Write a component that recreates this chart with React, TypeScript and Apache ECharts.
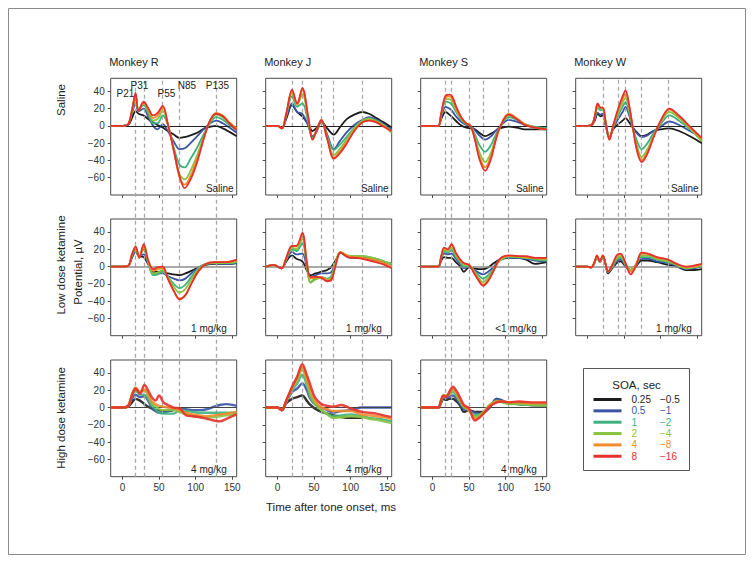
import React, { useEffect, useRef } from "react";
import * as echarts from "echarts";

const FONT = '"Liberation Sans", Arial, Helvetica, sans-serif';

// ---- categories / labels ----
const monkeys = ["Monkey R", "Monkey J", "Monkey S", "Monkey W"];
const soaLabels = ["0.25", "0.5", "1", "2", "4", "8"];
const isiLabels = ["\u22120.5", "\u22121", "\u22122", "\u22124", "\u22128", "\u221216"];
const seriesColors = ["#1c1c1c", "#3b54a4", "#3db27f", "#86c440", "#f38a2b", "#e4312b"];
const componentNames = ["P21", "P31", "P55", "N85", "P135"];
const xTicks = [0, 50, 100, 150];
const yTicks = [-60, -40, -20, 0, 20, 40];

// peak latencies (dashed lines), ms
const latR = [18, 30, 55, 78, 128];
const latJ = [20, 34, 60, 76, 116];
const latS = [18, 26, 50, 69, 104];
const latW = [21, 42, 52, 74, 110];

// ---- Saline ----
const rSalT = [-16, 0, 8, 13, 18, 22, 29, 35, 42, 48, 55, 62, 70, 78, 85, 93, 102, 112, 120, 128, 137, 146, 156];
const rSal = [
  [0, 0, 1, 9, 17, 14, 12, 8, 4, 1, -2, -6, -10, -14, -13, -11, -8, -3, -1, 0, -3, -7, -12],
  [0, 0, 2, 14, 26, 17, 20, 11, 0, -4, 2, -6, -18, -27, -26, -20, -12, -3, 3, 6, 3, -2, -8],
  [0, 0, 2, 16, 32, 19, 24, 15, 3, 3, 12, 1, -25, -45, -48, -38, -25, -8, 4, 10, 7, 1, -5],
  [0, 0, 2, 17, 35, 19, 26, 18, 6, 8, 17, 2, -28, -56, -62, -52, -34, -11, 6, 13, 10, 3, -3],
  [0, 0, 2, 18, 36, 18, 27, 20, 9, 12, 21, 2, -28, -60, -68, -58, -38, -12, 7, 15, 12, 4, -3],
  [0, 0, 2, 18, 38, 17, 28, 21, 12, 15, 23, 2, -28, -58, -72, -62, -42, -12, 7, 14, 11, 3, -5],
];
const jSalT = [-16, 0, 6, 12, 20, 27, 34, 42, 48, 54, 60, 68, 77, 85, 95, 105, 116, 125, 135, 145, 156];
const jSal = [
  [0, 0, -3, 8, 24, 16, 11, 2, -6, -2, 5, -3, -10, -2, 8, 13, 16, 14, 9, 4, -2],
  [0, 0, -3, 10, 26, 16, 14, 0, -12, -6, 6, -10, -27, -18, -7, 1, 7, 10, 7, 2, -4],
  [0, 0, -3, 12, 34, 22, 26, 4, -14, -5, 6, -12, -28, -22, -12, -2, 6, 9, 6, 1, -6],
  [0, 0, -3, 13, 38, 24, 37, 8, -15, -4, 7, -14, -34, -27, -15, -3, 6, 8, 5, 0, -8],
  [0, 0, -3, 14, 40, 25, 42, 10, -16, -4, 7, -15, -37, -30, -18, -5, 4, 7, 5, 0, -7],
  [0, 0, -3, 14, 42, 26, 44, 11, -16, -4, 7, -15, -38, -32, -20, -6, 4, 6, 4, -1, -6],
];
const sSalT = [-16, 0, 8, 12, 18, 23, 27, 33, 40, 46, 52, 58, 64, 72, 80, 86, 92, 104, 115, 126, 140, 156];
const sSal = [
  [0, 0, 0, 8, 16, 13, 10, 5, 0, -2, -3, -4, -8, -12, -9, -6, -3, -1, -2, -4, -4, -4],
  [0, 0, 0, 10, 22, 20, 17, 10, 4, 1, 0, -5, -11, -16, -12, -6, -1, 7, 5, 1, -2, -3],
  [0, 0, 0, 12, 28, 27, 24, 15, 6, 2, 0, -10, -22, -30, -22, -11, -2, 10, 7, 2, -1, -3],
  [0, 0, 0, 13, 31, 31, 28, 17, 7, 3, 0, -13, -30, -42, -31, -15, -2, 12, 8, 2, -2, -4],
  [0, 0, 0, 14, 33, 34, 31, 19, 8, 3, 0, -15, -35, -48, -35, -17, -2, 14, 9, 2, -2, -4],
  [0, 0, 0, 15, 35, 36, 34, 21, 9, 3, 0, -16, -38, -52, -38, -18, -2, 13, 8, 1, -2, -4],
];
const wSalT = [-16, 0, 6, 10, 14, 18, 21, 25, 30, 35, 42, 48, 52, 57, 62, 68, 74, 82, 90, 100, 112, 125, 140, 156];
const wSal = [
  [0, 0, 1, 6, 14, 11, 12, 0, -14, -4, 2, 6, 9, 4, -2, -8, -12, -10, -6, -4, -3, -6, -12, -20],
  [0, 0, 1, 7, 15, 13, 14, 2, -14, -3, 8, 16, 22, 12, -2, -9, -13, -11, -6, -1, 5, 1, -6, -14],
  [0, 0, 1, 9, 21, 18, 19, 3, -15, -2, 12, 22, 27, 15, -3, -18, -27, -20, -9, 2, 12, 6, -4, -17],
  [0, 0, 1, 10, 23, 20, 20, 4, -15, -1, 15, 27, 32, 19, -3, -24, -36, -27, -12, 4, 16, 9, -3, -18],
  [0, 0, 1, 11, 25, 21, 21, 4, -16, -1, 18, 31, 37, 22, -2, -28, -40, -30, -13, 5, 19, 11, -2, -15],
  [0, 0, 1, 11, 26, 21, 21, 4, -16, 0, 20, 34, 41, 24, -2, -30, -42, -32, -14, 6, 20, 12, -1, -14],
];

// ---- Low dose ketamine ----
const rLowT = [-16, 0, 8, 13, 18, 23, 29, 35, 42, 48, 55, 62, 70, 78, 86, 94, 104, 114, 125, 140, 156];
const rLow = [
  [0, 0, 1, 10, 17, 12, 11, 3, -6, -6, -7, -8, -9, -10, -8, -5, -1, 2, 3, 3, 4],
  [0, 0, 1, 11, 18, 12, 14, 4, -8, -8, -8, -11, -14, -16, -14, -8, -1, 3, 4, 3, 4],
  [0, 0, 1, 12, 20, 12, 20, 5, -10, -9, -6, -12, -20, -25, -21, -12, -2, 3, 4, 4, 5],
  [0, 0, 1, 13, 22, 11, 23, 6, -8, -7, -4, -12, -23, -30, -26, -15, -3, 3, 4, 4, 5],
  [0, 0, 1, 14, 23, 10, 25, 7, -5, -3, -2, -14, -28, -37, -33, -20, -5, 3, 5, 5, 7],
  [0, 0, 1, 14, 23, 10, 26, 8, -3, -1, 0, -14, -28, -38, -33, -20, -5, 3, 5, 5, 8],
];
const jLowT = [-16, -5, 0, 6, 12, 20, 26, 34, 40, 45, 52, 60, 68, 74, 80, 86, 96, 106, 116, 130, 143, 156];
const jLow = [
  [0, 2, 0, -2, 6, 13, 9, 6, -4, -10, -8, -6, -4, 0, 8, 16, 12, 11, 10, 8, 6, 3],
  [0, 2, 0, -2, 7, 17, 14, 15, 0, -12, -10, -8, -8, -6, 6, 16, 11, 10, 10, 8, 6, 3],
  [0, 2, 0, -2, 8, 20, 18, 27, 2, -18, -14, -12, -14, -10, 6, 16, 12, 12, 12, 10, 7, 2],
  [0, 2, 0, -2, 9, 22, 20, 32, 4, -19, -15, -13, -15, -12, 6, 17, 13, 12, 12, 10, 7, 3],
  [0, 2, 0, -2, 10, 24, 23, 37, 6, -14, -13, -12, -16, -14, 4, 17, 12, 11, 10, 8, 5, 0],
  [0, 2, 0, -2, 10, 24, 24, 39, 6, -12, -12, -13, -17, -15, 3, 16, 11, 10, 9, 6, 3, -2],
];
const sLowT = [-16, 0, 8, 12, 16, 21, 26, 32, 38, 43, 50, 57, 63, 69, 76, 84, 92, 104, 116, 128, 140, 156];
const sLow = [
  [0, 0, 0, 7, 11, 10, 10, 5, 0, -6, -1, -2, -3, -3, -1, 4, 8, 10, 10, 8, 3, 5],
  [0, 0, 0, 9, 15, 14, 15, 9, 3, -2, 0, -4, -7, -9, -6, 0, 8, 11, 10, 9, 7, 6],
  [0, 0, 0, 10, 17, 16, 19, 11, 5, 0, 1, -5, -10, -14, -10, -2, 7, 11, 11, 10, 8, 7],
  [0, 0, 0, 11, 19, 18, 22, 13, 6, 2, 2, -6, -13, -18, -13, -3, 7, 12, 11, 10, 9, 8],
  [0, 0, 0, 12, 21, 19, 25, 15, 7, 3, 2, -7, -15, -21, -16, -4, 8, 12, 12, 11, 10, 9],
  [0, 0, 0, 12, 22, 20, 26, 16, 8, 4, 2, -8, -16, -22, -17, -4, 9, 13, 12, 12, 10, 10],
];
const wLowT = [-16, 0, 5, 10, 13, 17, 21, 25, 28, 34, 40, 45, 52, 59, 66, 74, 82, 95, 110, 122, 135, 145, 156];
const wLow = [
  [0, 0, -1, 5, 12, 5, 12, 2, -8, -2, 4, 6, 0, -4, 0, 7, 7, 5, 2, 0, -4, -4, -3],
  [0, 0, -1, 5, 12, 5, 12, 2, -7, -1, 6, 8, 1, -4, 1, 9, 9, 6, 4, 1, -3, -2, 0],
  [0, 0, -1, 5, 12, 5, 12, 2, -6, 0, 8, 10, 2, -4, 1, 11, 11, 8, 5, 2, -2, -1, 1],
  [0, 0, -1, 5, 12, 5, 12, 2, -6, 1, 10, 12, 3, -4, 2, 13, 13, 9, 6, 2, -2, -1, 1],
  [0, 0, -1, 6, 13, 6, 13, 2, -6, 2, 12, 14, 4, -6, 2, 15, 15, 10, 8, 3, -1, 0, 2],
  [0, 0, -1, 6, 13, 6, 13, 2, -6, 2, 13, 15, 4, -9, 0, 16, 15, 11, 8, 3, 0, 1, 3],
];

// ---- High dose ketamine ----
const rHighT = [-16, 0, 8, 13, 18, 24, 30, 35, 40, 45, 50, 56, 62, 70, 78, 87, 96, 105, 115, 125, 133, 142, 156];
const rHigh = [
  [0, 0, 1, 6, 10, 8, 4, 1, -1, -3, -3, -4, -4, -3, null, null, null, null, null, null, null, null, null],
  [0, 0, 2, 10, 15, 12, 13, 8, 0, -4, -6, -6, -4, -2, -1, -2, -3, -3, -2, 1, 3, 4, 2],
  [0, 0, 2, 13, 20, 15, 15, 10, 2, -2, -6, -7, -7, -7, -3, -4, -5, -6, -6, -6, -6, -6, -6],
  [0, 0, 2, 15, 22, 18, 20, 14, 5, 2, -2, -3, -3, -3, -5, -8, -10, -11, -12, -11, -10, -9, -8],
  [0, 0, 2, 15, 23, 18, 21, 16, 7, 4, 2, 1, 0, -1, -3, -6, -8, -9, -10, -9, -8, -7, -5],
  [0, 0, 2, 14, 22, 16, 26, 20, 12, 8, 14, 6, 3, 0, -1, -9, -10, -11, -13, -15, -16, -13, -8],
];
const jHighT = [-16, 0, 6, 12, 20, 27, 34, 40, 45, 51, 60, 68, 76, 87, 100, 115, 125, 135, 145, 156];
const jHigh = [
  [0, 0, -3, 5, 10, 12, 14, 8, 3, -1, -5, -7, -9, -11, -12, -12, null, null, null, null],
  [0, 0, -3, 6, 18, 22, 28, 20, 10, 4, 0, -3, -6, -4, -3, 0, 0, 0, 0, 0],
  [0, 0, -3, 7, 20, 28, 38, 26, 12, 4, -3, -7, -10, -9, -8, -10, -12, -13, -14, -16],
  [0, 0, -3, 7, 22, 32, 44, 30, 15, 5, -3, -8, -12, -11, -10, -11, -13, -14, -16, -18],
  [0, 0, -3, 8, 23, 34, 47, 33, 20, 8, 0, -2, -4, -4, -4, -8, -9, -10, -11, -13],
  [0, 0, -3, 8, 24, 36, 50, 38, 26, 12, 4, 2, 1, 3, -1, -5, -6, -7, -9, -11],
];
const sHighT = [-16, 0, 8, 12, 15, 19, 23, 28, 33, 38, 43, 50, 58, 64, 70, 78, 88, 96, 104, 118, 135, 156];
const sHigh = [
  [0, 0, 0, 6, 10, 9, 10, 10, 7, 2, -5, -3, -5, -5, -5, 0, 10, 7, 5, 4, 3, 3],
  [0, 0, 0, 7, 12, 11, 12, 14, 10, 4, -2, -3, -6, -7, -6, 0, 10, 8, 5, 4, 3, 2],
  [0, 0, 0, 8, 13, 13, 15, 18, 13, 6, 0, -3, -9, -8, -6, 2, 8, 7, 5, 4, 3, 3],
  [0, 0, 0, 8, 13, 14, 16, 20, 15, 7, 1, -3, -11, -9, -5, 3, 7, 6, 4, 4, 3, 2],
  [0, 0, 0, 9, 14, 13, 17, 22, 17, 9, 2, -3, -13, -11, -6, 2, 7, 7, 6, 6, 5, 5],
  [0, 0, 0, 9, 14, 12, 18, 24, 19, 11, 3, -1, -15, -12, -7, 1, 6, 7, 6, 7, 6, 6],
];

const X_MIN = -16;
const X_MAX = 156;
const Y_MIN = -80;
const Y_MAX = 55;

// layout (px)
const colLeft = [110.7, 265.7, 420.7, 575.7];
const rowTop = [78.3, 219, 360];
const PW = 126;
const PH = 116.7;

const panels = [
  { row: 0, col: 0, t: rSalT, v: rSal, note: "Saline" },
  { row: 0, col: 1, t: jSalT, v: jSal, note: "Saline" },
  { row: 0, col: 2, t: sSalT, v: sSal, note: "Saline" },
  { row: 0, col: 3, t: wSalT, v: wSal, note: "Saline" },
  { row: 1, col: 0, t: rLowT, v: rLow, note: "1 mg/kg" },
  { row: 1, col: 1, t: jLowT, v: jLow, note: "1 mg/kg" },
  { row: 1, col: 2, t: sLowT, v: sLow, note: "<1 mg/kg" },
  { row: 1, col: 3, t: wLowT, v: wLow, note: "1 mg/kg" },
  { row: 2, col: 0, t: rHighT, v: rHigh, note: "4 mg/kg" },
  { row: 2, col: 1, t: jHighT, v: jHigh, note: "4 mg/kg" },
  { row: 2, col: 2, t: sHighT, v: sHigh, note: "4 mg/kg" },
];
const latencies = [latR, latJ, latS, latW];
const lastRow = [2, 2, 2, 1];
const zeroColors = ["#222", "#8c8c8c", "#444"];

function buildOption() {
  const grid: any[] = [];
  const xAxis: any[] = [];
  const yAxis: any[] = [];
  const series: any[] = [];
  const graphic: any[] = [];

  // column grids for the dashed latency lines (span several rows)
  latencies.forEach((lat, c) => {
    const gi = grid.length;
    const top = rowTop[0];
    const bottom = rowTop[lastRow[c]] + PH;
    grid.push({ left: colLeft[c], top, width: PW, height: bottom - top, show: false });
    xAxis.push({ gridIndex: gi, type: "value", min: X_MIN, max: X_MAX, show: false });
    yAxis.push({ gridIndex: gi, type: "value", min: 0, max: 1, show: false });
    series.push({
      type: "line",
      xAxisIndex: gi,
      yAxisIndex: gi,
      data: [],
      z: 1,
      silent: true,
      markLine: {
        silent: true,
        symbol: "none",
        label: { show: false },
        lineStyle: { color: "#a8a8a8", width: 1.3, type: [4, 3] },
        data: lat.map((x) => ({ xAxis: x })),
      },
    });
  });

  panels.forEach((p) => {
    const gi = grid.length;
    grid.push({
      left: colLeft[p.col],
      top: rowTop[p.row],
      width: PW,
      height: PH,
      show: true,
      backgroundColor: "transparent",
      borderColor: "#4a4a4a",
      borderWidth: 1,
    });
    xAxis.push({
      gridIndex: gi,
      type: "value",
      min: X_MIN,
      max: X_MAX,
      axisLine: { show: false, onZero: false },
      splitLine: { show: false },
      axisTick: { show: true, customValues: xTicks, length: 3, lineStyle: { color: "#4a4a4a" } },
      axisLabel: {
        show: p.row === 2,
        customValues: xTicks,
        fontSize: 10,
        fontFamily: FONT,
        color: "#333",
        margin: 6,
      },
    });
    yAxis.push({
      gridIndex: gi,
      type: "value",
      min: Y_MIN,
      max: Y_MAX,
      axisLine: { show: false, onZero: false },
      splitLine: { show: false },
      axisTick: { show: true, customValues: yTicks, length: 3, lineStyle: { color: "#4a4a4a" } },
      axisLabel: {
        show: p.col === 0,
        customValues: yTicks,
        fontSize: 10,
        fontFamily: FONT,
        color: "#333",
        margin: 6,
        formatter: (v: number) => (v < 0 ? "\u2212" + Math.abs(v) : String(v)),
      },
    });
    p.v.forEach((vals, s) => {
      const ser: any = {
        type: "line",
        xAxisIndex: gi,
        yAxisIndex: gi,
        data: p.t.map((x, k) => [x, vals[k]]),
        showSymbol: false,
        symbol: "none",
        smooth: 0.35,
        connectNulls: false,
        z: 3 + s,
        lineStyle: {
          color: seriesColors[s],
          width: p.row === 2 ? 2.4 : 1.8,
          opacity: p.row === 2 ? 0.9 : 1,
        },
      };
      if (s === 0) {
        ser.markLine = {
          silent: true,
          symbol: "none",
          label: { show: false },
          lineStyle: { color: zeroColors[p.row], width: p.row === 1 ? 1.6 : 1.2, type: "solid" },
          data: [{ yAxis: 0 }],
        };
      }
      series.push(ser);
    });

    // condition note in corner
    const rightPad = p.note === "Saline" ? 3 : 10;
    graphic.push({
      type: "text",
      x: colLeft[p.col] + PW - rightPad,
      y: rowTop[p.row] + PH - 7,
      z: 20,
      style: {
        text: p.note,
        fill: "#222",
        fontSize: 10,
        fontFamily: FONT,
        align: "right",
        verticalAlign: "middle",
      },
    });
  });

  // outer frame
  graphic.push({
    type: "rect",
    z: 0,
    shape: { x: 8.5, y: 8.5, width: 737, height: 546 },
    style: { fill: "none", stroke: "#8a8a8a", lineWidth: 1 },
  });

  // column titles
  monkeys.forEach((m, c) => {
    graphic.push({
      type: "text",
      x: colLeft[c] - 1.5,
      y: 62,
      style: { text: m, fill: "#222", fontSize: 11, fontFamily: FONT, align: "left", verticalAlign: "middle" },
    });
  });

  // component labels (Monkey R saline panel)
  const compPos = [
    [125.5, 93],
    [139.5, 85],
    [166.5, 93],
    [187, 85],
    [217.5, 85],
  ];
  componentNames.forEach((n, i) => {
    graphic.push({
      type: "text",
      x: compPos[i][0],
      y: compPos[i][1],
      z: 20,
      style: { text: n, fill: "#222", fontSize: 10, fontFamily: FONT, align: "center", verticalAlign: "middle" },
    });
  });

  // row labels
  const rowLabels = [
    { text: "Saline", x: 61, y: 100 },
    { text: "Low dose ketamine", x: 61, y: 265 },
    { text: "Potential, \u00b5V", x: 78, y: 272 },
    { text: "High dose ketamine", x: 61, y: 418 },
  ];
  rowLabels.forEach((r) => {
    graphic.push({
      type: "text",
      x: r.x,
      y: r.y,
      rotation: Math.PI / 2,
      style: { text: r.text, fill: "#222", fontSize: 11.5, fontFamily: FONT, align: "center", verticalAlign: "middle" },
    });
  });

  // x-axis title
  graphic.push({
    type: "text",
    x: 331,
    y: 507,
    style: {
      text: "Time after tone onset, ms",
      fill: "#222",
      fontSize: 11.5,
      fontFamily: FONT,
      align: "center",
      verticalAlign: "middle",
    },
  });

  // legend
  const LX = 583.5;
  const LY = 368.5;
  graphic.push({
    type: "rect",
    shape: { x: LX, y: LY, width: 106, height: 102 },
    style: { fill: "#fff", stroke: "#555", lineWidth: 1 },
    z: 10,
  });
  graphic.push({
    type: "text",
    x: LX + 53,
    y: LY + 16.5,
    z: 11,
    style: { text: "SOA, sec", fill: "#222", fontSize: 11.5, fontFamily: FONT, align: "center", verticalAlign: "middle" },
  });
  soaLabels.forEach((lab, i) => {
    const yy = LY + 31 + i * 11.35;
    graphic.push({
      type: "line",
      z: 11,
      shape: { x1: LX + 10, y1: yy, x2: LX + 38, y2: yy },
      style: { stroke: seriesColors[i], lineWidth: 3 },
    });
    graphic.push({
      type: "text",
      x: LX + 48,
      y: yy,
      z: 11,
      style: {
        text: lab,
        fill: i === 0 ? "#222" : seriesColors[i],
        fontSize: 10,
        fontFamily: FONT,
        align: "left",
        verticalAlign: "middle",
      },
    });
    graphic.push({
      type: "text",
      x: LX + 76.5,
      y: yy,
      z: 11,
      style: {
        text: isiLabels[i],
        fill: i === 0 ? "#222" : seriesColors[i],
        fontSize: 10,
        fontFamily: FONT,
        align: "left",
        verticalAlign: "middle",
      },
    });
  });

  return {
    animation: false,
    backgroundColor: "#ffffff",
    textStyle: { fontFamily: FONT },
    grid,
    xAxis,
    yAxis,
    series,
    graphic,
  };
}

export default function App() {
  const ref = useRef<HTMLDivElement>(null);
  useEffect(() => {
    if (!ref.current) return;
    const chart = echarts.init(ref.current, undefined, { renderer: "svg" });
    chart.setOption(buildOption());
    return () => chart.dispose();
  }, []);
  return (
    <div
      ref={ref}
      style={{ position: "absolute", left: 0, top: 0, width: 753, height: 563, background: "#fff" }}
    />
  );
}
